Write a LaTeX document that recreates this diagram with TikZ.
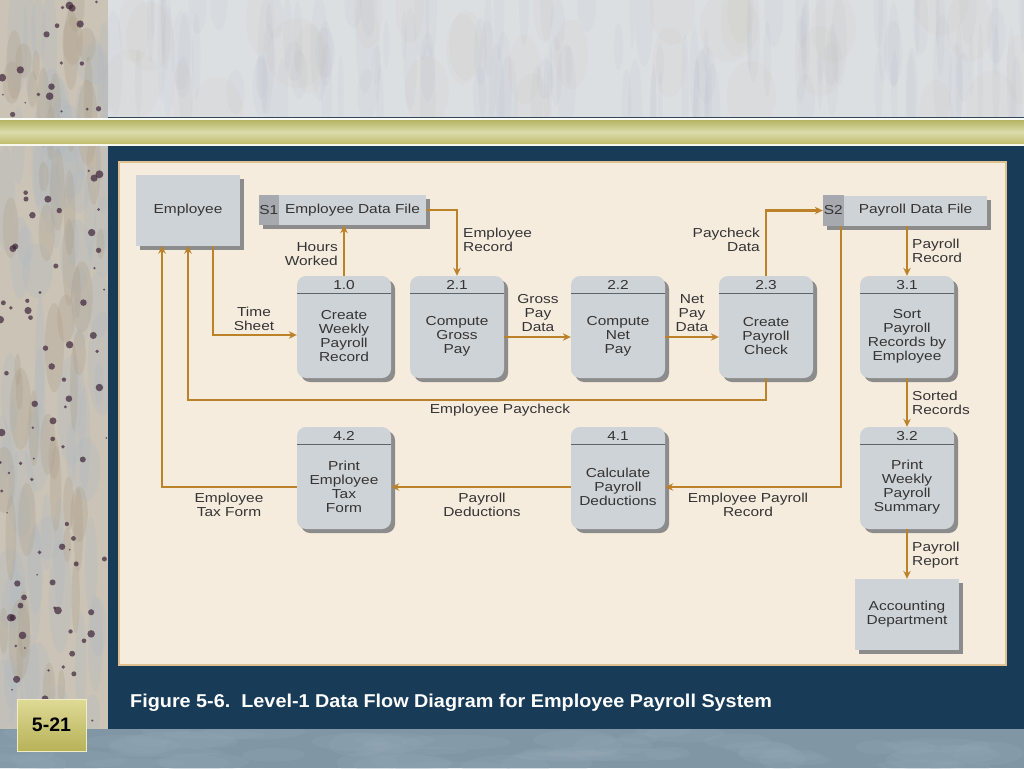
\documentclass[tikz,border=0pt]{standalone}
\usepackage{fontspec}
\setmainfont{Liberation Sans}[FakeStretch=1.19]
\newfontfamily\capfont{Liberation Sans}[FakeStretch=1.065]
\newfontfamily\plainfont{Liberation Sans}
\usetikzlibrary{calc,shadows,arrows.meta}
\definecolor{panelbg}{RGB}{246,236,222}
\definecolor{panelline}{RGB}{222,192,145}
\definecolor{boxfill}{RGB}{206,211,215}
\definecolor{boxshade}{RGB}{140,140,140}
\definecolor{segfill}{RGB}{166,170,174}
\definecolor{txt}{RGB}{52,52,52}
\definecolor{hdrc}{RGB}{95,100,105}
\definecolor{flowc}{RGB}{188,130,42}
\definecolor{navy}{RGB}{24,59,87}
\definecolor{darkline}{RGB}{50,70,90}
\definecolor{topgrey}{RGB}{220,223,226}
\definecolor{streakc}{RGB}{178,183,195}
\definecolor{beige}{RGB}{202,195,182}
\definecolor{veinc}{RGB}{170,155,132}
\definecolor{bluevein}{RGB}{172,184,196}
\definecolor{spotc}{RGB}{62,36,58}
\definecolor{botc}{RGB}{128,150,165}
\definecolor{botlight}{RGB}{150,170,183}
\definecolor{olivetop}{RGB}{182,180,98}
\definecolor{olivemid}{RGB}{218,220,172}
\definecolor{olivebot}{RGB}{192,188,108}
\definecolor{pgtop}{RGB}{222,218,150}
\definecolor{pgbot}{RGB}{184,178,88}
\definecolor{pgedge}{RGB}{240,236,196}
\tikzset{
  lbl/.style={inner sep=0pt, text=txt, font=\fontsize{13}{14}\selectfont, align=center},
  shade4/.style={drop shadow={shadow xshift=4pt, shadow yshift=-4pt, fill=boxshade, opacity=1}},
  entity/.style={fill=boxfill, shade4, inner sep=0pt, minimum width=104pt, minimum height=71pt, text=txt, font=\fontsize{13}{14}\selectfont, align=center},
  store/.style={fill=boxfill, shade4, inner sep=0pt, minimum height=30pt},
  proc/.style={fill=boxfill, shade4, rounded corners=9pt, inner sep=0pt, minimum width=94pt, minimum height=102pt},
  hdr/.style={draw=hdrc, line width=0.8pt},
  flow/.style={draw=flowc, line width=2.4pt, -{Stealth[length=8pt,width=7.5pt]}},
}
\newcommand\procbox[4]{%
  \node[proc] (#1) at (#2) {};
  \draw[hdr] ($(#1.north west)+(0,18)$) -- ($(#1.north east)+(0,18)$);
  \node[lbl] (#1n) at ($(#1.north)+(0,9)$) {#3};
  \node[lbl] (#1t) at ($(#1.center)+(0,9)$) {#4};
}
\begin{document}
\begin{tikzpicture}[x=1pt,y=-1pt]
\useasboundingbox (0,0) rectangle (1024,768);
\pgfmathsetseed{4242}
% ---------- background ----------
\fill[navy] (0,0) rectangle (1024,768);
% top marble band
\begin{scope}
  \clip (108,0) rectangle (1024,117);
  \fill[topgrey] (108,0) rectangle (1024,117);
  \foreach \i in {1,...,120}{
    \pgfmathsetmacro\xx{108+rnd*916}
    \pgfmathsetmacro\yy{rnd*117}
    \pgfmathsetmacro\ww{2+rnd*8}
    \pgfmathsetmacro\hh{20+rnd*40}
    \fill[streakc, opacity=0.1] (\xx,\yy) ellipse [x radius=\ww, y radius=\hh];
  }
  \foreach \i in {1,...,30}{
    \pgfmathsetmacro\xx{108+rnd*916}
    \pgfmathsetmacro\yy{rnd*117}
    \pgfmathsetmacro\ww{10+rnd*20}
    \fill[beige, opacity=0.12] (\xx,\yy) ellipse [x radius=\ww, y radius=35];
  }
\end{scope}
% left marble strip
\begin{scope}
  \clip (0,0) rectangle (108,729);
  \fill[beige] (0,0) rectangle (108,729);
  \foreach \i in {1,...,70}{
    \pgfmathsetmacro\xx{rnd*108}
    \pgfmathsetmacro\yy{rnd*729}
    \pgfmathsetmacro\ww{4+rnd*12}
    \pgfmathsetmacro\hh{20+rnd*40}
    \fill[bluevein, opacity=0.22] (\xx,\yy) ellipse [x radius=\ww, y radius=\hh];
  }
  \foreach \i in {1,...,50}{
    \pgfmathsetmacro\xx{rnd*108}
    \pgfmathsetmacro\yy{rnd*729}
    \pgfmathsetmacro\ww{3+rnd*8}
    \pgfmathsetmacro\hh{15+rnd*30}
    \fill[veinc, opacity=0.25] (\xx,\yy) ellipse [x radius=\ww, y radius=\hh];
  }
  \foreach \i in {1,...,110}{
    \pgfmathsetmacro\xx{rnd*108}
    \pgfmathsetmacro\yy{rnd*729}
    \pgfmathsetmacro\rr{0.8+rnd*3.2}
    \fill[spotc, opacity=0.7] (\xx,\yy) circle [radius=\rr];
  }
\end{scope}
% bottom strip
\begin{scope}
  \clip (0,729) rectangle (1024,768);
  \fill[botc] (0,729) rectangle (1024,768);
  \foreach \i in {1,...,60}{
    \pgfmathsetmacro\xx{rnd*1024}
    \pgfmathsetmacro\yy{729+rnd*39}
    \pgfmathsetmacro\ww{20+rnd*40}
    \pgfmathsetmacro\hh{4+rnd*8}
    \fill[botlight, opacity=0.2] (\xx,\yy) ellipse [x radius=\ww, y radius=\hh];
  }
\end{scope}
% lines and olive band
\fill[darkline] (108,116.5) rectangle (1024,118);
\fill[white!90!olivemid] (0,118) rectangle (1024,120);
\shade[top color=olivetop, bottom color=olivebot, middle color=olivemid] (0,120) rectangle (1024,144);
\fill[white!80!olivemid] (0,144) rectangle (1024,146);
% panel
\fill[panelbg, draw=panelline, line width=1.5pt] (119,162) rectangle (1006,665);
% ---------- diagram ----------
\node[entity] (emp) at (188,210) {Employee};
\node[store, minimum width=167pt] (s1) at (342.5,210) {};
\fill[segfill] (s1.north west) rectangle ($(s1.south west)+(20,0)$);
\node[lbl] (s1n) at ($(s1.west)+(10,0)$) {S1};
\node[lbl] (s1t) at ($(s1.center)+(10,0)$) {Employee Data File};
\node[store, minimum width=164pt] (s2) at (905,210.5) {};
\fill[segfill] (s2.north west) rectangle ($(s2.south west)+(21,0)$);
\node[lbl] (s2n) at ($(s2.west)+(10.5,0)$) {S2};
\node[lbl] (s2t) at ($(s2.center)+(10.5,0)$) {Payroll Data File};
\procbox{p10}{344,327}{1.0}{Create\\Weekly\\Payroll\\Record}
\procbox{p21}{457,327}{2.1}{Compute\\Gross\\Pay}
\procbox{p22}{618,327}{2.2}{Compute\\Net\\Pay}
\procbox{p23}{766,327}{2.3}{Create\\Payroll\\Check}
\procbox{p31}{907,327}{3.1}{Sort\\Payroll\\Records by\\Employee}
\procbox{p32}{907,478}{3.2}{Print\\Weekly\\Payroll\\Summary}
\procbox{p41}{618,478}{4.1}{Calculate\\Payroll\\Deductions}
\procbox{p42}{344,478}{4.2}{Print\\Employee\\Tax\\Form}
\node[entity] (acc) at (907,614.5) {Accounting\\Department};
% ---------- flows ----------
\draw[flow] ($(emp.south)+(25,0)$) |- ($(p10.west)+(0,8)$);
\draw[flow] (p10.north) -- (p10.north |- s1.south);
\draw[flow] (s1.east) -| (p21.north);
\draw[flow] ($(p21.east)+(0,10)$) -- ($(p22.west)+(0,10)$);
\draw[flow] ($(p22.east)+(0,10)$) -- ($(p23.west)+(0,10)$);
\draw[flow] (p23.north) |- (s2.west);
\draw[flow] (s2.south -| p31.north) -- (p31.north);
\draw[flow] (p23.south) -- ++(0,22) -| (emp.south);
\draw[flow] ($(s2.south west)+(18,0)$) |- ($(p41.east)+(0,9)$);
\draw[flow] ($(p41.west)+(0,9)$) -- ($(p42.east)+(0,9)$);
\draw[flow] ($(p42.west)+(0,9)$) -| ($(emp.south)+(-26,0)$);
\draw[flow] (p31.south) -- (p32.north);
\draw[flow] (p32.south) -- (acc.north);
% ---------- flow labels ----------
\node[lbl] (lts) at (254,319) {Time\\Sheet};
\node[lbl, anchor=east, align=right] (lhw) at (338,254) {Hours\\Worked};
\node[lbl, anchor=west, align=left] (ler) at (463,240) {Employee\\Record};
\node[lbl] (lgp) at (538,313) {Gross\\Pay\\Data};
\node[lbl] (lnp) at (692,313) {Net\\Pay\\Data};
\node[lbl, anchor=east, align=right] (lpd) at (760,240) {Paycheck\\Data};
\node[lbl, anchor=west, align=left] (lpr) at (912,251) {Payroll\\Record};
\node[lbl] (lep) at (500,410) {Employee Paycheck};
\node[lbl, anchor=west, align=left] (lsr) at (912,403) {Sorted\\Records};
\node[lbl] (lepr) at (748,505) {Employee Payroll\\Record};
\node[lbl] (lpdd) at (482,505) {Payroll\\Deductions};
\node[lbl] (letf) at (229,505) {Employee\\Tax Form};
\node[lbl, anchor=west, align=left] (lrep) at (912,555) {Payroll\\Report};
% ---------- caption and page number ----------
\node[inner sep=0pt, anchor=base west, text=white, font=\capfont\bfseries\fontsize{18.6}{20}\selectfont] (cap) at (130,707) {Figure 5-6.\ \ Level-1 Data Flow Diagram for Employee Payroll System};
\shade[top color=pgtop, bottom color=pgbot, draw=pgedge, line width=1pt] (17,699) rectangle (86,751);
\node[inner sep=0pt, text=black, font=\plainfont\bfseries\fontsize{19.5}{20}\selectfont] (pg) at (51.5,725) {5-21};
\end{tikzpicture}
\end{document}
